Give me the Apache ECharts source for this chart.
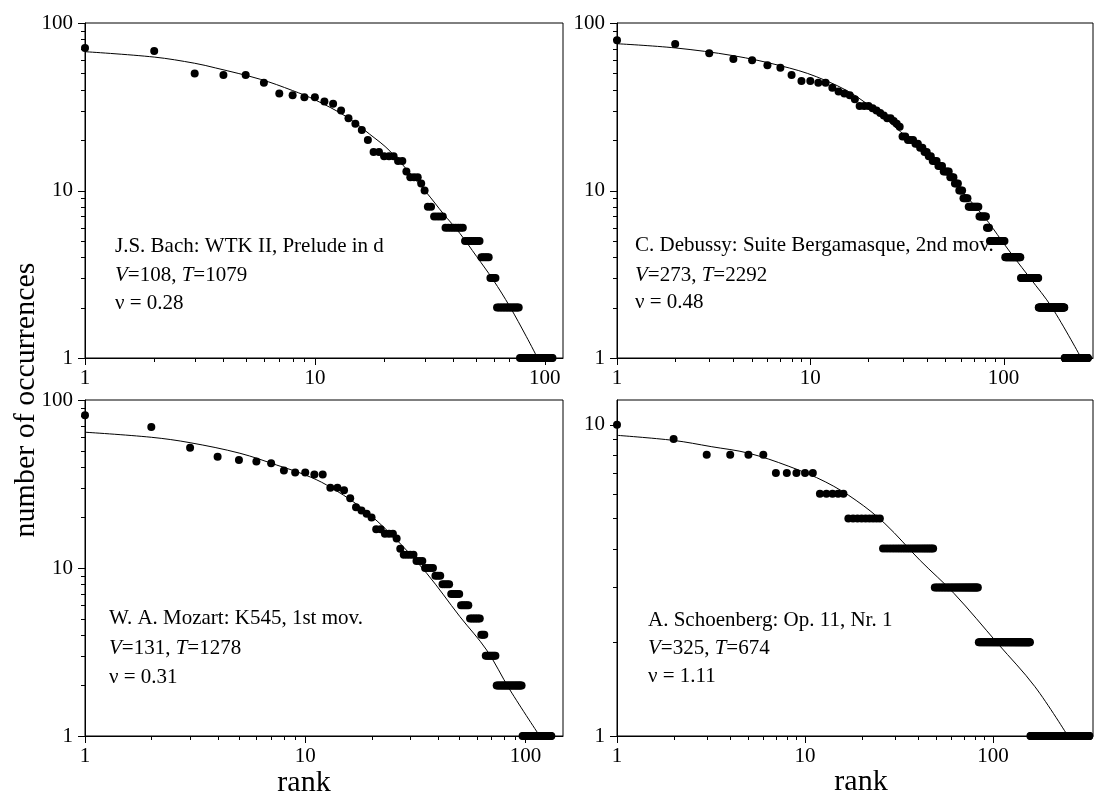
<!DOCTYPE html>
<html><head><meta charset="utf-8">
<script src="https://cdn.jsdelivr.net/npm/echarts@6/dist/echarts.min.js"></script>
<style>html,body{margin:0;padding:0;background:#fff}#c{width:1099px;height:803px}</style>
</head><body><div id="c"></div>
<script>
// ---------- DATA (rank-ordered counts, run-length: level repeated run times) ----------
const bachLevels = [71,68,50,49,44,38,37,36,34,33,30,27,25,23,20,17,16,15,13,12,11,10,8,7,6,5,4,3,2,1];
const bachRuns   = [ 1, 1, 1, 2, 1, 1, 1, 2, 1, 1, 1, 1, 1, 1, 1, 2, 3, 2, 1, 3, 1, 1,2,4,8,8,5,4,16,31];
const bachFitRank  = [1, 2, 3, 3.7, 5.8, 8, 10, 13.7, 17.3, 21.2, 30.6, 36.1, 42.7, 50.5, 59.6, 70.4, 83.2, 93];
const bachFitValue = [67.4, 62.6, 57.5, 53.9, 46.1, 39.5, 34.8, 27.6, 21.7, 17.2, 9.7, 7.3, 5.55, 4.04, 2.93, 2.03, 1.34, 1];

const debLevels = [79,75,66,61,60,56,54,49,45,44,41,39,38,37,35,32,31,30,29,28,27,26,25,24,21,20,19,18,17,16,15,14,13,12,11,10,9,8,7,6,5,4,3,2,1];
const debRuns   = [ 1, 1, 1, 1, 1, 1, 1, 1, 2, 2, 1, 1, 1, 1, 1, 3, 1, 1, 1, 1, 2, 1, 1, 1, 2, 3, 2, 2, 2, 2, 3, 3, 4, 3, 3, 3,4,9,7,3,17,21,29,55,67];
const debFitRank  = [1, 2, 4, 7, 10.8, 17.3, 29.2, 47, 79, 98, 113, 137, 178, 252];
const debFitValue = [75.2, 71, 63.8, 55.6, 47.7, 36.5, 22.5, 13.6, 7.0, 5.0, 4.0, 3.0, 2.0, 1.0];

const mozLevels = [81,69,52,46,44,43,42,38,37,36,30,29,26,23,22,21,20,17,16,15,13,12,11,10,9,8,7,6,5,4,3,2,1];
const mozRuns   = [ 1, 1, 1, 1, 1, 1, 1, 1, 2, 2, 2, 1, 1, 1, 1, 1, 1, 2, 3, 1, 1, 4, 3, 4,3,4,5,5,7,3,8,23,35];
const mozFitRank  = [1, 2, 3, 5.05, 7.42, 10, 12.5, 17.7, 25.1, 35.6, 50.4, 66.6, 85, 116];
const mozFitValue = [64.3, 60, 55.7, 48.2, 41, 35.8, 31.2, 23.2, 15.4, 9.3, 5.13, 3.25, 1.88, 1];

const schLevels = [10, 9, 8, 7, 6, 5, 4, 3, 2, 1];
const schRuns   = [ 1, 1, 4, 5, 5, 9,23,35,74,168];
const schFitRank  = [1, 2, 3.17, 5, 8.2, 12.9, 18.7, 26.6, 41, 62, 106, 167, 250];
const schFitValue = [9.24, 8.9, 8.5, 8.1, 7.35, 6.54, 5.71, 4.81, 3.66, 2.87, 1.98, 1.44, 1];

const xMax = [120, 290, 148, 340];
const yMax = [100, 100, 100, 12];
const majorTicks = [1, 10, 100];
const minorTicks = [2,3,4,5,6,7,8,9,20,30,40,50,60,70,80,90,200,300];

const titles = [
  ['J.S. Bach: WTK II, Prelude in d', '{i|V}=108, {i|T}=1079', 'ν = 0.28'],
  ['C. Debussy: Suite Bergamasque, 2nd mov.', '{i|V}=273, {i|T}=2292', 'ν = 0.48'],
  ['W. A. Mozart: K545, 1st mov.', '{i|V}=131, {i|T}=1278', 'ν = 0.31'],
  ['A. Schoenberg: Op. 11, Nr. 1', '{i|V}=325, {i|T}=674', 'ν = 1.11']
];
const yLabel = 'number of occurrences';
const xLabel = 'rank';

// ---------- BUILD ----------
const FONT = "'Liberation Serif','Times New Roman',serif";
const MAJOR_LEN = 7, MINOR_LEN = 4;
function expand(levels, runs) {
  const out = []; let r = 1;
  levels.forEach((v, i) => { for (let k = 0; k < runs[i]; k++) { out.push([r, v]); r++; } });
  return out;
}
function zip(a, b) { return a.map((x, i) => [x, b[i]]); }

const panels = [
  { pts: expand(bachLevels, bachRuns), fit: zip(bachFitRank, bachFitValue) },
  { pts: expand(debLevels, debRuns), fit: zip(debFitRank, debFitValue) },
  { pts: expand(mozLevels, mozRuns), fit: zip(mozFitRank, mozFitValue) },
  { pts: expand(schLevels, schRuns), fit: zip(schFitRank, schFitValue) }
];
const gridPos = [
  { left: 85, top: 23, width: 478, height: 335 },
  { left: 617, top: 23, width: 476, height: 335 },
  { left: 85, top: 400, width: 478, height: 336 },
  { left: 617, top: 400, width: 476, height: 336 }
];
const textPos = [
  { x: 115, y: [246, 275, 303] },
  { x: 635, y: [245, 275, 302] },
  { x: 109, y: [618, 648, 677] },
  { x: 648, y: [620, 648, 676] }
];

// tick marks drawn through the axis scales (outward, major and minor)
function tickSeries(g, axisDim, data) {
  return {
    type: 'custom', xAxisIndex: g, yAxisIndex: g, clip: false, z: 5,
    data: data,
    renderItem: function (params, api) {
      const v = api.value(0), len = api.value(1);
      let shape;
      if (axisDim === 'x') {
        const p = api.coord([v, 1]);
        const x = Math.round(p[0]) + 0.5, y = Math.round(p[1]);
        shape = { x1: x, y1: y, x2: x, y2: y + len };
      } else {
        const p = api.coord([1, v]);
        const y = Math.round(p[1]) + 0.5, x = Math.round(p[0]);
        shape = { x1: x, y1: y, x2: x - len, y2: y };
      }
      return { type: 'line', shape: shape, style: { stroke: '#000', lineWidth: 1 } };
    }
  };
}

const grids = [], xAxes = [], yAxes = [], series = [], graphics = [];
panels.forEach((p, g) => {
  grids.push(Object.assign({ show: true, borderColor: '#000', borderWidth: 1, backgroundColor: 'transparent', containLabel: false }, gridPos[g]));
  const xm = xMax[g], ym = yMax[g];
  const base = { type: 'log', logBase: 10, gridIndex: g, splitLine: { show: false }, minorTick: { show: false },
    axisLine: { show: true, lineStyle: { color: '#000', width: 1 } },
    axisTick: { show: false } };
  xAxes.push(Object.assign({}, base, {
    min: 1, max: xm, position: 'bottom',
    axisLabel: { show: true, margin: 10, color: '#000', fontSize: 21, fontFamily: FONT, showMaxLabel: false }
  }));
  yAxes.push(Object.assign({}, base, {
    min: 1, max: ym, position: 'left',
    axisLabel: { show: true, margin: 12, color: '#000', fontSize: 21, fontFamily: FONT, showMaxLabel: ym === 100 }
  }));
  series.push({
    type: 'line', xAxisIndex: g, yAxisIndex: g, data: p.fit, smooth: 0.35,
    showSymbol: false, symbol: 'none', lineStyle: { color: '#000', width: 1 }, z: 2
  });
  series.push({
    type: 'scatter', xAxisIndex: g, yAxisIndex: g, data: p.pts, symbol: 'circle', symbolSize: 8,
    itemStyle: { color: '#000', opacity: 1 }, z: 3
  });
  const xt = majorTicks.filter(v => v <= xm).map(v => [v, MAJOR_LEN])
    .concat(minorTicks.filter(v => v <= xm).map(v => [v, MINOR_LEN]));
  const yt = majorTicks.filter(v => v <= ym).map(v => [v, MAJOR_LEN])
    .concat(minorTicks.filter(v => v <= ym).map(v => [v, MINOR_LEN]));
  series.push(tickSeries(g, 'x', xt));
  series.push(tickSeries(g, 'y', yt));
  titles[g].forEach((t, k) => {
    graphics.push({
      type: 'text', x: textPos[g].x, y: textPos[g].y[k], z: 10, silent: true,
      style: {
        text: t, fill: '#000', fontSize: 21, fontFamily: FONT, textAlign: 'left', textVerticalAlign: 'middle', verticalAlign: 'middle',
        rich: { i: { fontStyle: 'italic', fontSize: 21, fontFamily: FONT, fill: '#000' } }
      }
    });
  });
});
graphics.push({
  type: 'text', x: 26, y: 400, rotation: Math.PI / 2, silent: true,
  style: { text: yLabel, fill: '#000', fontSize: 30, fontFamily: FONT, textAlign: 'center', textVerticalAlign: 'middle', verticalAlign: 'middle' }
});
graphics.push({
  type: 'text', x: 304, y: 783, silent: true,
  style: { text: xLabel, fill: '#000', fontSize: 30, fontFamily: FONT, textAlign: 'center', textVerticalAlign: 'middle', verticalAlign: 'middle' }
});
graphics.push({
  type: 'text', x: 861, y: 782, silent: true,
  style: { text: xLabel, fill: '#000', fontSize: 30, fontFamily: FONT, textAlign: 'center', textVerticalAlign: 'middle', verticalAlign: 'middle' }
});

const chart = echarts.init(document.getElementById('c'), null, { renderer: 'canvas' });
chart.setOption({
  backgroundColor: '#fff',
  animation: false,
  tooltip: { show: false },
  grid: grids,
  xAxis: xAxes,
  yAxis: yAxes,
  series: series,
  graphic: graphics
});
</script></body></html>
